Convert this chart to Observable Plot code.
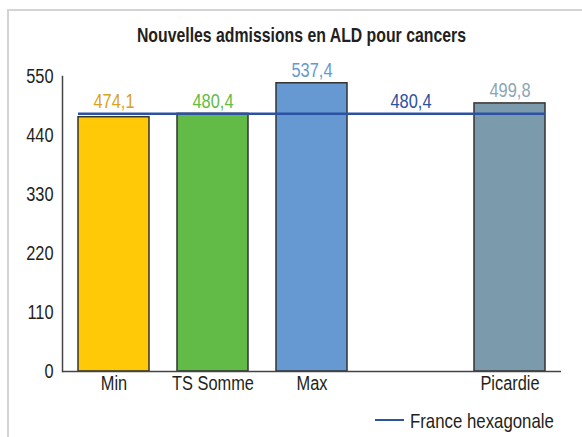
<!DOCTYPE html>
<html>
<head>
<meta charset="utf-8">
<script src="https://cdn.jsdelivr.net/npm/d3@7"></script>
<script src="https://cdn.jsdelivr.net/npm/@observablehq/plot@0.6"></script>
<style>
  html, body { margin: 0; padding: 0; background: #fff; }
  #wrap { position: relative; width: 582px; height: 437px; overflow: hidden;
    font-family: "Liberation Sans", Arial, sans-serif; }
  #frame { position: absolute; left: 7px; top: 9px; width: 600px; height: 440px;
    border-left: 2px solid #d4d4d4; border-top: 2px solid #d4d4d4; }
  #title { position: absolute; left: 0; top: 24px; width: 602px; text-align: center; }
  #title span { display: inline-block; font-size: 21px; line-height: 21px; font-weight: bold;
    color: #231f20; white-space: nowrap; transform-origin: 50% 50%; }
  #chart { position: absolute; left: 0; top: 56px; }
  #legend { position: absolute; left: 375px; top: 410px; font-size: 21px; line-height: 21px;
    color: #231f20; white-space: nowrap; }
  #legend .sw { display: inline-block; width: 29px; height: 0; border-top: 2.5px solid #2b52a3;
    vertical-align: middle; margin-right: 6px; position: relative; top: -2px; }
  #legend .lt { display: inline-block; transform: scaleX(0.8); transform-origin: 0 50%; }
</style>
</head>
<body>
<div id="wrap">
  <div id="frame"></div>
  <div id="title"><span>Nouvelles admissions en ALD pour cancers</span></div>
  <div id="chart"></div>
  <div id="legend"><span class="sw"></span><span class="lt">France hexagonale</span></div>
</div>
<script>
// Data
const categories = ["Min", "TS Somme", "Max", "", "Picardie"];
const barLabels = ["Min", "TS Somme", "Max", "Picardie"];
const barValues = [474.1, 480.4, 537.4, 499.8];
const barColors = ["#ffc907", "#62bb46", "#6699d1", "#7b9aab"];
const labelColors = ["#d9a31c", "#62bb46", "#6699d1", "#8ba5b4"];
const franceValue = 480.4;
const franceLabel = "France hexagonale";
const franceColor = "#2b52a3";
const yTicks = [0, 110, 220, 330, 440, 550];

const fmt = v => v.toFixed(1).replace(".", ",");
const bars = barLabels.map((c, i) => ({cat: c, value: barValues[i], fill: barColors[i], lc: labelColors[i]}));

const plot = Plot.plot({
  width: 582,
  height: 349,
  marginLeft: 62,
  marginRight: 21,
  marginTop: 20,
  marginBottom: 34,
  style: {fontFamily: '"Liberation Sans", Arial, sans-serif', fontSize: "21px", color: "#231f20", background: "transparent"},
  x: {domain: categories, paddingInner: 0.28, paddingOuter: 0.14, label: null},
  y: {domain: [0, 550], ticks: yTicks, label: null},
  marks: [
    Plot.axisY({ticks: yTicks, tickSize: 0, tickPadding: 9, tickFormat: d => String(d), fontSize: 21}),
    Plot.axisX({tickSize: 0, tickPadding: 4, fontSize: 21}),
    Plot.barY(bars, {x: "cat", y: "value", fill: "fill", stroke: "#333", strokeWidth: 1.5}),
    Plot.ruleY([franceValue], {x1: () => barLabels[0], x2: () => barLabels[barLabels.length - 1], stroke: franceColor, strokeWidth: 2.5}),
    Plot.text(bars, {x: "cat", y: d => Math.max(d.value, franceValue), text: d => fmt(d.value), fill: "lc", lineAnchor: "bottom", dy: -6, fontSize: 21}),
    Plot.text([franceValue], {x: () => categories[3], y: d => d, text: d => fmt(d), fill: franceColor, lineAnchor: "bottom", dy: -6, fontSize: 21}),
    Plot.ruleY([0], {stroke: "#444", strokeWidth: 1.5}),
    Plot.frame({anchor: "left", stroke: "#444", strokeWidth: 1.5})
  ]
});
// condense all text horizontally (reference uses a condensed typeface)
plot.querySelectorAll("text").forEach(t => {
  const tr = t.getAttribute("transform") || "";
  t.setAttribute("transform", tr + " scale(0.78,1)");
});
document.getElementById("chart").appendChild(plot);

// fit title width to reference
const ts = document.querySelector("#title span");
const w = ts.getBoundingClientRect().width;
ts.style.transform = `scaleX(${329 / w})`;
</script>
</body>
</html>
